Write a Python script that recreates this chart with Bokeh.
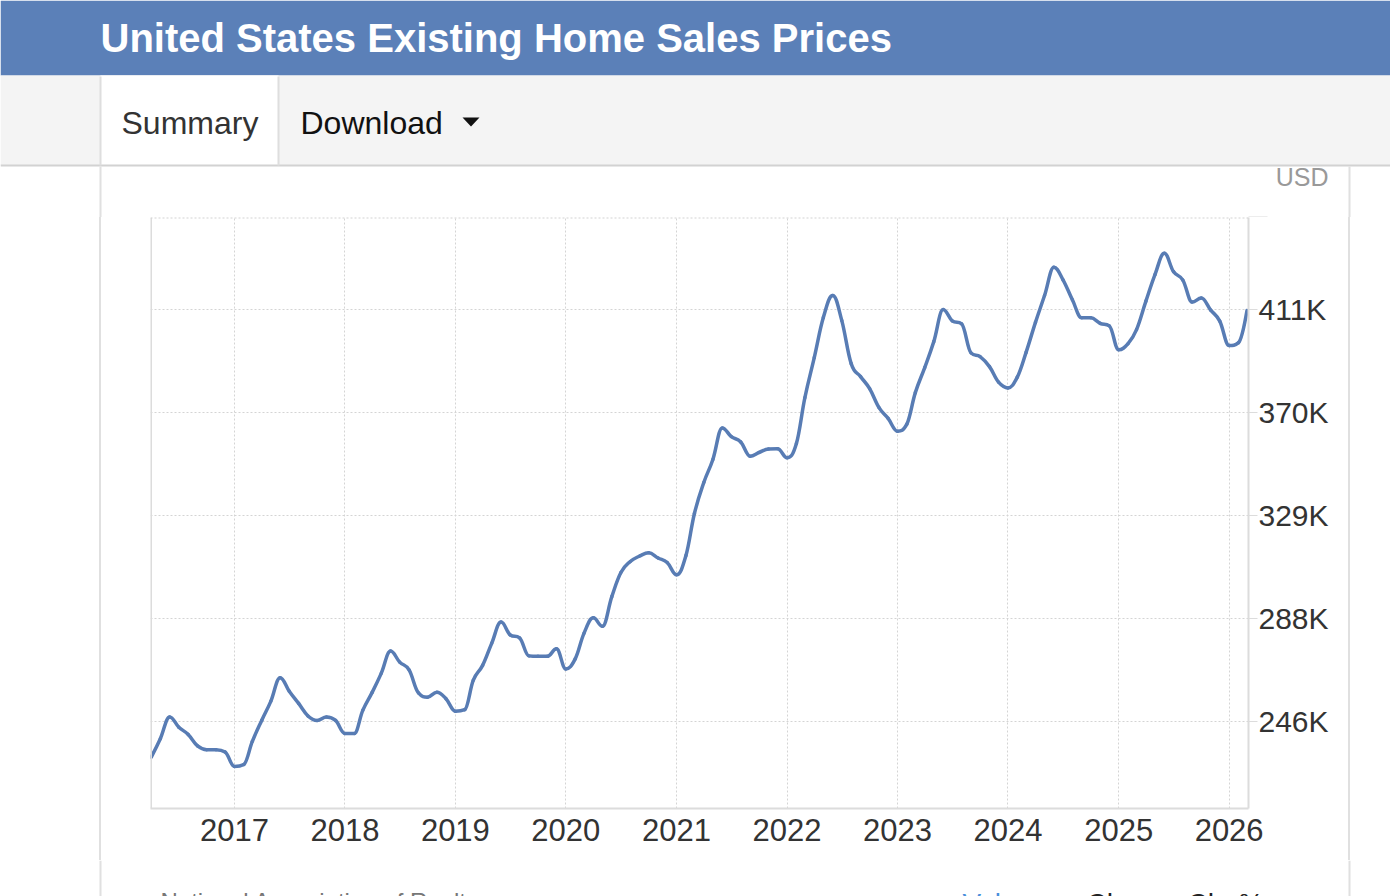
import pandas as pd
from bokeh.plotting import figure
from bokeh.layouts import column, row
from bokeh.models import Span, FixedTicker, Range1d, ColumnDataSource, DatetimeTickFormatter, Div
from bokeh.core.properties import value
from bokeh.embed import file_html
from bokeh.resources import INLINE

# Median existing-home sales price (USD), monthly, Apr 2016 - Mar 2026
price_2016 = [232100, 239500, 248200, 244100, 241200, 236600, 235100, 235100, 234200]  # Apr-Dec
price_2017 = [228400, 229200, 238400, 246800, 254400, 263900, 258500, 253600, 248600, 246800, 248200, 246800]
price_2018 = [241600, 241600, 250800, 258000, 265600, 274500, 270100, 267000, 257800, 256100, 258100, 255500]
price_2019 = [250500, 251100, 262800, 268800, 277600, 286100, 281000, 279800, 272600, 272400, 272400, 275400]
price_2020 = [267400, 271400, 281600, 287800, 284400, 296300, 305900, 310300, 312500, 313800, 311700, 309900]
price_2021 = [305000, 312700, 329500, 341900, 351100, 363700, 360200, 358100, 352400, 353900, 355300, 355400]
price_2022 = [351800, 357500, 375800, 391800, 407800, 416600, 406600, 389400, 384200, 379400, 371800, 367500]
price_2023 = [362400, 365200, 377800, 387800, 398200, 411000, 406500, 405300, 393700, 392200, 388200, 382000]
price_2024 = [379700, 384000, 393900, 405900, 416600, 427900, 422900, 414900, 407700, 407700, 405500, 404500]
price_2025 = [394900, 397400, 403000, 414400, 425000, 433500, 426200, 422800, 414000, 415600, 410800, 406400]
price_2026 = [396600, 397800, 410600]  # Jan-Mar

first_month = "2016-04-01"

year_ticks = ["2017", "2018", "2019", "2020", "2021", "2022", "2023", "2024", "2025", "2026"]
y_ticks = [246400, 287600, 328800, 370000, 411200]
y_tick_labels = ["246K", "288K", "329K", "370K", "411K"]

prices = (price_2016 + price_2017 + price_2018 + price_2019 + price_2020 + price_2021
          + price_2022 + price_2023 + price_2024 + price_2025 + price_2026)
dates = pd.date_range(first_month, periods=len(prices), freq="MS")
xs = [d.timestamp() * 1000.0 for d in dates]


def spline_segments(px, py, smoothing=1.5):
    """Cubic Bezier pieces of a smooth curve through every point."""
    n = len(px)
    denom = smoothing + 1.0
    left, right = [], []
    for i in range(n):
        x, y = px[i], py[i]
        if 0 < i < n - 1:
            lx, ly, nx, ny = px[i - 1], py[i - 1], px[i + 1], py[i + 1]
            lcx = (smoothing * x + lx) / denom
            lcy = (smoothing * y + ly) / denom
            rcx = (smoothing * x + nx) / denom
            rcy = (smoothing * y + ny) / denom
            corr = 0.0
            if rcx != lcx:
                corr = (rcy - lcy) * (rcx - x) / (rcx - lcx) + y - rcy
            lcy += corr
            rcy += corr
            if lcy > ly and lcy > y:
                lcy = max(ly, y); rcy = 2 * y - lcy
            elif lcy < ly and lcy < y:
                lcy = min(ly, y); rcy = 2 * y - lcy
            if rcy > ny and rcy > y:
                rcy = max(ny, y); lcy = 2 * y - rcy
            elif rcy < ny and rcy < y:
                rcy = min(ny, y); lcy = 2 * y - rcy
            left.append((lcx, lcy)); right.append((rcx, rcy))
        else:
            left.append((x, y)); right.append((x, y))
    seg = dict(x0=[], y0=[], x1=[], y1=[], cx0=[], cy0=[], cx1=[], cy1=[])
    for i in range(1, n):
        seg["x0"].append(px[i - 1]); seg["y0"].append(py[i - 1])
        seg["x1"].append(px[i]); seg["y1"].append(py[i])
        seg["cx0"].append(right[i - 1][0]); seg["cy0"].append(right[i - 1][1])
        seg["cx1"].append(left[i][0]); seg["cy1"].append(left[i][1])
    return seg


W, H = 1390, 896
FONT = "Liberation Sans"
LINE = "#587cb4"
GRID = "#d4d4d4"
EDGE = "#dcdcdc"
PAGE_EDGE = "#e0e0e0"


def panel(width, height, x0, x1, y0, y1):
    """A plain drawing surface in page pixels (y grows downward)."""
    f = figure(width=width, height=height, x_range=Range1d(x0, x1),
               y_range=Range1d(y1, y0), x_axis_location=None, y_axis_location=None,
               toolbar_location=None, output_backend="svg", title=None,
               min_border=0, outline_line_color=None,
               background_fill_color="white", border_fill_color="white")
    f.grid.visible = False
    return f


def label(f, x, y, s, size, color, bold=False, align="left", baseline="middle"):
    f.text(x=[x], y=[y], text=[s], text_font=value(FONT), text_font_size=value(size),
           text_color=color, text_font_style="bold" if bold else "normal",
           text_align=align, text_baseline=baseline)


# ---- header and tab strip (page rows 0-217)
top = panel(W, 217, 0, W, 0, 217)
top.quad(left=[0], right=[W], top=[0], bottom=[75], fill_color="#5b80b8", line_color=None)
top.quad(left=[0], right=[W], top=[75], bottom=[165], fill_color="#f4f4f4", line_color=None)
top.quad(left=[100], right=[278], top=[75], bottom=[165], fill_color="#ffffff", line_color=None)
top.quad(left=[0], right=[W], top=[164], bottom=[166], fill_color="#d2d2d2", line_color=None)
top.quad(left=[99, 277], right=[101, 279], top=[76, 76], bottom=[165, 165],
         fill_color="#dedede", line_color=None)
top.quad(left=[99, 1348], right=[101, 1350], top=[166, 166], bottom=[217, 217],
         fill_color=PAGE_EDGE, line_color=None)
top.quad(left=[1248], right=[1267], top=[216], bottom=[217.5], fill_color=EDGE, line_color=None)
label(top, 100, 37, "United States Existing Home Sales Prices", "40px", "#ffffff", bold=True)
label(top, 121, 122, "Summary", "32px", "#333333")
label(top, 300, 122, "Download", "32px", "#111111")
top.patch(x=[462, 479, 470.5], y=[117, 117, 126], fill_color="#111111", line_color=None)
label(top, 1328, 176, "USD", "25px", "#999999", align="right")

# ---- side strips next to the chart (page rows 217-860): plain boxes with an edge rule
left = Div(width=150, height=643, styles={"margin": "0", "padding": "0"},
           text=("<div style='margin:0 0 0 99px;padding:0;width:2px;height:643px;"
                 "background:%s'></div>" % PAGE_EDGE))
right = Div(width=42, height=643, styles={"margin": "0", "padding": "0"},
            text=("<div style='margin:0;padding:0;width:2px;height:643px;"
                  "background:%s'></div>" % PAGE_EDGE))

# ---- the chart
x_start = pd.Timestamp("2016-03-29 12:00").timestamp() * 1000.0
x_end = pd.Timestamp("2026-03-06").timestamp() * 1000.0
y_start, y_end = 211600, 447800

p = figure(width=1198, height=643, x_axis_type="datetime", y_axis_location="right",
           x_range=Range1d(x_start, x_end), y_range=Range1d(y_start, y_end),
           min_border_left=0, min_border_right=100, min_border_top=0,
           min_border_bottom=52, toolbar_location=None, output_backend="svg",
           title=None, background_fill_color="white", border_fill_color="white",
           outline_line_color=None)

x_tick_vals = [pd.Timestamp(f"{y}-01-01").timestamp() * 1000.0 for y in year_ticks]
p.xaxis.ticker = FixedTicker(ticks=x_tick_vals)
p.xaxis.formatter = DatetimeTickFormatter(years="%Y", months="%Y", days="%Y",
                                          hours="%Y", minutes="%Y", seconds="%Y")
p.xaxis.bounds = (x_start, x_end + (x_end - x_start) * 19.0 / 1098.0)
p.xaxis.axis_line_color = EDGE
p.xaxis.axis_line_width = 2
p.xaxis.major_tick_line_color = None
p.xaxis.minor_tick_line_color = None
p.xaxis.major_label_standoff = 4
p.xaxis.major_label_text_font = FONT
p.xaxis.major_label_text_font_size = "31px"
p.xaxis.major_label_text_color = "#333333"

p.yaxis.ticker = FixedTicker(ticks=y_ticks)
p.yaxis.major_label_overrides = dict(zip(y_ticks, y_tick_labels))
p.yaxis.axis_line_color = EDGE
p.yaxis.axis_line_width = 2
p.yaxis.major_tick_line_color = EDGE
p.yaxis.major_tick_out = 9
p.yaxis.major_tick_in = 0
p.yaxis.minor_tick_line_color = None
p.yaxis.major_label_standoff = 1
p.yaxis.major_label_text_font = FONT
p.yaxis.major_label_text_font_size = "30px"
p.yaxis.major_label_text_color = "#333333"

for g in (p.xgrid, p.ygrid):
    g.grid_line_color = GRID
    g.grid_line_dash = "2 2"
    g.grid_line_width = 1
p.xgrid.ticker = FixedTicker(ticks=x_tick_vals)
p.ygrid.ticker = FixedTicker(ticks=y_ticks)

p.add_layout(Span(location=x_start, dimension="height", line_color=EDGE, line_width=3))
p.add_layout(Span(location=y_end, dimension="width", line_color=GRID,
                  line_dash="2 2", line_width=2))

seg = ColumnDataSource(spline_segments(xs, prices))
p.bezier(x0="x0", y0="y0", x1="x1", y1="y1", cx0="cx0", cy0="cy0",
         cx1="cx1", cy1="cy1", source=seg, line_color=LINE, line_width=3.5,
         line_cap="round", line_join="round")

# ---- source line and value switches (page rows 860-896)
bottom = panel(W, 36, 0, W, 860, 896)
bottom.quad(left=[99, 1348], right=[101, 1350], top=[860, 860], bottom=[896, 896],
            fill_color=PAGE_EDGE, line_color=None)
label(bottom, 160, 901, "National Association of Realtors", "24px", "#777777", baseline="alphabetic")
label(bottom, 962, 903, "Value", "28px", "#4a8fdc", baseline="alphabetic")
label(bottom, 1086, 903, "Chg", "28px", "#222222", baseline="alphabetic")
label(bottom, 1187, 903, "Chg%", "28px", "#222222", baseline="alphabetic")

page = column(top, row(left, p, right), bottom)
open("out.html", "w").write(file_html(page, INLINE))
